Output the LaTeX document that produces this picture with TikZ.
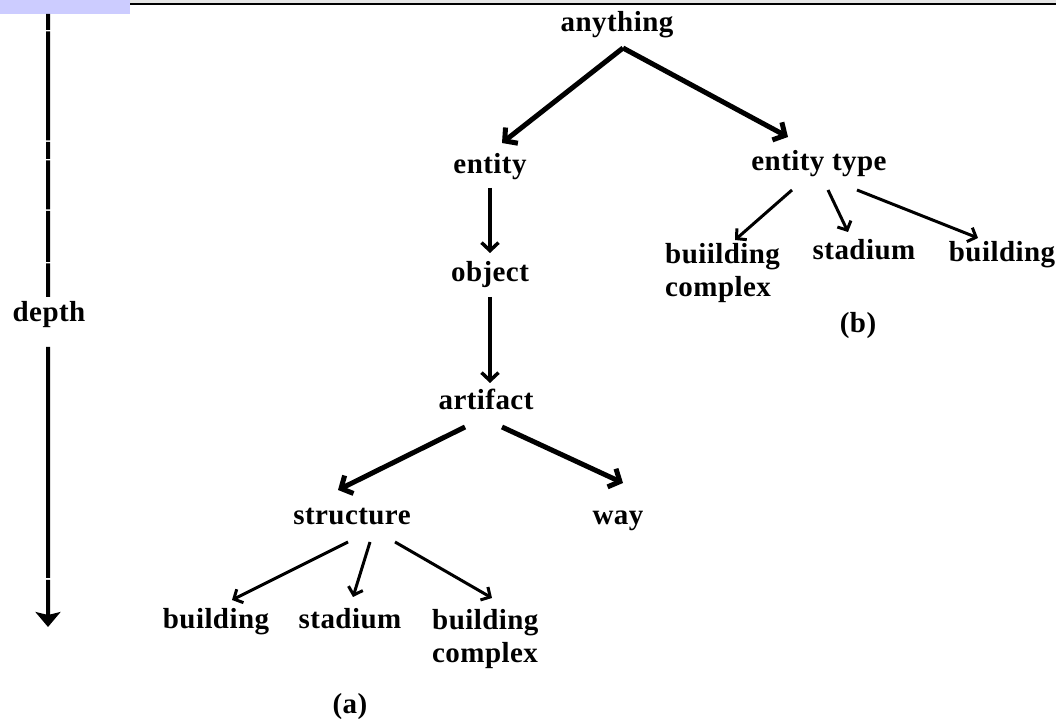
\documentclass[tikz,border=0pt]{standalone}
\usepackage{fontspec}
\setmainfont{Liberation Serif}[LetterSpace=1.5]
\usetikzlibrary{arrows.meta}

\begin{document}
\begin{tikzpicture}[line join=bevel,
  word/.style={font=\bfseries\fontsize{29bp}{33bp}\selectfont,inner sep=0pt,anchor=base},
  words/.style={word,align=left,anchor=base west},
  heavy/.style={line width=5bp,-{Straight Barb[length=9bp,width=20bp]}},
  light/.style={line width=3bp,-{Straight Barb[length=7bp,width=15bp]}},
  midway/.style={line width=3.5bp,-{Straight Barb[length=8bp,width=17bp]}}]

\useasboundingbox (0bp,0bp) rectangle (1056bp,719bp);

% Frame
\definecolor{barcol}{rgb}{0.8,0.8,1.0}
\fill[gray!20] (0bp,715bp) rectangle (1056bp,719bp);
\draw[line width=2bp] (0bp,714.5bp) -- (1056bp,714.5bp);
\fill[barcol] (0bp,705bp) rectangle (130bp,719bp);

% Node: anything
\node[word] (anything) at (617bp,687bp) {anything};
% Node: entity
\node[word] (entity) at (490bp,545bp) {entity};
% Node: entity type
\node[word] (enttype) at (819bp,548bp) {entity type};
% Node: object
\node[word] (object) at (490bp,437bp) {object};
% Node: artifact
\node[word] (artifact) at (486bp,309bp) {artifact};
% Node: structure
\node[word] (structure) at (352bp,194bp) {structure};
% Node: way
\node[word] (way) at (618bp,194bp) {way};
% Node: building (a)
\node[word] (bldA) at (216bp,90bp) {building};
% Node: stadium (a)
\node[word] (stadA) at (350bp,90bp) {stadium};
% Node: building complex (a)
\node[words] (cplxA) at (432bp,56bp) {building\\complex};
% Node: buiilding complex (b)
\node[words] (cplxB) at (665bp,422bp) {buiilding\\complex};
% Node: stadium (b)
\node[word] (stadB) at (864bp,459bp) {stadium};
% Node: building (b)
\node[word] (bldB) at (1002bp,457bp) {building};
% Captions
\node[word] (capA) at (350bp,6bp) {(a)};
\node[word] (capB) at (858bp,386bp) {(b)};

% Edge: anything -> entity
\draw[heavy] ([xshift=6bp,yshift=-16bp]anything.base) -- ([xshift=12bp,yshift=31bp]entity.base);
% Edge: anything -> entity type
\draw[heavy] ([xshift=6bp,yshift=-16bp]anything.base) -- ([xshift=-31bp,yshift=34bp]enttype.base);
% Edge: entity -> object
\draw[midway] ([yshift=-14bp]entity.base) -- ([yshift=29bp]object.base);
% Edge: object -> artifact
\draw[midway] ([yshift=-15bp]object.base) -- ([xshift=4bp,yshift=27bp]artifact.base);
% Edge: artifact -> structure
\draw[heavy] ([xshift=-21bp,yshift=-17bp]artifact.base) -- ([xshift=-14bp,yshift=35bp]structure.base);
% Edge: artifact -> way
\draw[heavy] ([xshift=16bp,yshift=-17bp]artifact.base) -- ([xshift=5bp,yshift=42bp]way.base);
% Edge: structure -> building
\draw[light] ([xshift=-4bp,yshift=-17bp]structure.base) -- ([xshift=16bp,yshift=29bp]bldA.base);
% Edge: structure -> stadium
\draw[light] ([xshift=18bp,yshift=-17bp]structure.base) -- ([xshift=3bp,yshift=32bp]stadA.base);
% Edge: structure -> building complex
\draw[light] ([xshift=43bp,yshift=-17bp]structure.base) -- ([xshift=60bp,yshift=65bp]cplxA.base west);
% Edge: entity type -> buiilding complex
\draw[light] ([xshift=-27bp,yshift=-19bp]enttype.base) -- ([xshift=70bp,yshift=57bp]cplxB.base west);
% Edge: entity type -> stadium
\draw[light] ([xshift=9bp,yshift=-19bp]enttype.base) -- ([xshift=-16bp,yshift=28bp]stadB.base);
% Edge: entity type -> building
\draw[light] ([xshift=38bp,yshift=-19bp]enttype.base) -- ([xshift=-24bp,yshift=24bp]bldB.base);

% Depth axis
\coordinate (dtop) at (48bp,705bp);
\coordinate (dbot) at (48bp,92bp);
\node[word] (depth) at (49bp,397bp) {depth};
\draw[line width=4bp,dash pattern=on 16bp off 1.5bp on 109bp off 1.5bp on 17bp off 1.5bp on 49bp off 1.5bp on 51bp off 1.5bp on 40bp]
  (dtop) -- ([xshift=-1bp,yshift=25bp]depth.base);
\draw[line width=4bp,dash pattern=on 231bp off 2bp on 60bp,-{Stealth[length=15bp,width=25bp,inset=3bp]}]
  ([xshift=-1bp,yshift=-25bp]depth.base) -- (dbot);

\end{tikzpicture}
\end{document}
